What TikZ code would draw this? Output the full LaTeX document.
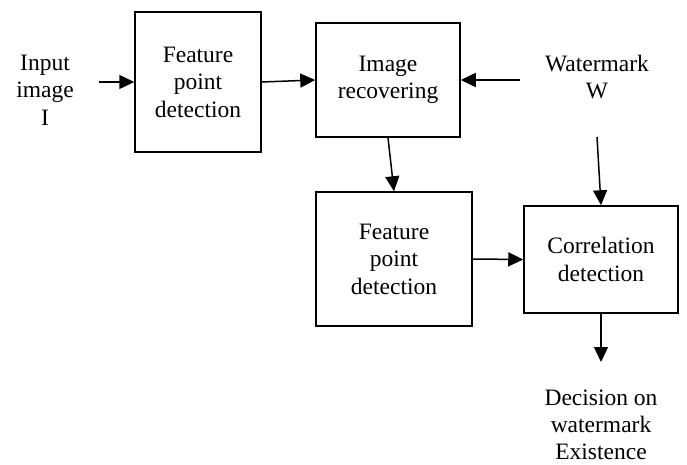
\documentclass[tikz,border=0pt]{standalone}
\usepackage{fontspec}
\setmainfont{Liberation Serif}
\usetikzlibrary{arrows.meta}
\begin{document}
\begin{tikzpicture}[x=1pt,y=-1pt,
  every node/.style={font=\fontsize{23.5}{27.5}\selectfont, align=center, inner sep=0pt},
  blockbox/.style={draw, line width=1.5pt},
  conn/.style={line width=1.5pt, -{Triangle[length=15pt,width=14pt]}}]
\useasboundingbox (0,0) rectangle (687,465);
\node[blockbox, minimum width=126pt, minimum height=140pt] (b1) at (198,82) {Feature\\point\\detection};
\node[blockbox, minimum width=144pt, minimum height=114pt] (b2) at (388,80) {Image\\recovering};
\node[blockbox, minimum width=156pt, minimum height=134pt] (b3) at (394,259) {Feature\\point\\detection};
\node[blockbox, minimum width=154pt, minimum height=107pt] (b4) at (601,259.5) {Correlation\\detection};
\node (inp) at (45,90) {Input\\image\\I};
\node (wm) at (597,77) {Watermark\\W};
\node[font=\fontsize{23.5}{27}\selectfont] (dec) at (601,425) {Decision on\\watermark\\Existence};
\coordinate (inS) at (99,82);
\coordinate (wmL) at (520,80);
\coordinate (wmB) at (597,137);
\coordinate (outE) at (601,362);
\draw[conn] (inS) -- (b1.west);
\draw[conn] (b1.east) -- (b2.west);
\draw[conn] (wmL) -- (b2.east);
\draw[conn] (b2.south) -- (b3.north);
\draw[conn] (wmB) -- (b4.north);
\draw[conn] (b3.east) -- (b4.west);
\draw[conn] (b4.south) -- (outE);
\end{tikzpicture}
\end{document}
